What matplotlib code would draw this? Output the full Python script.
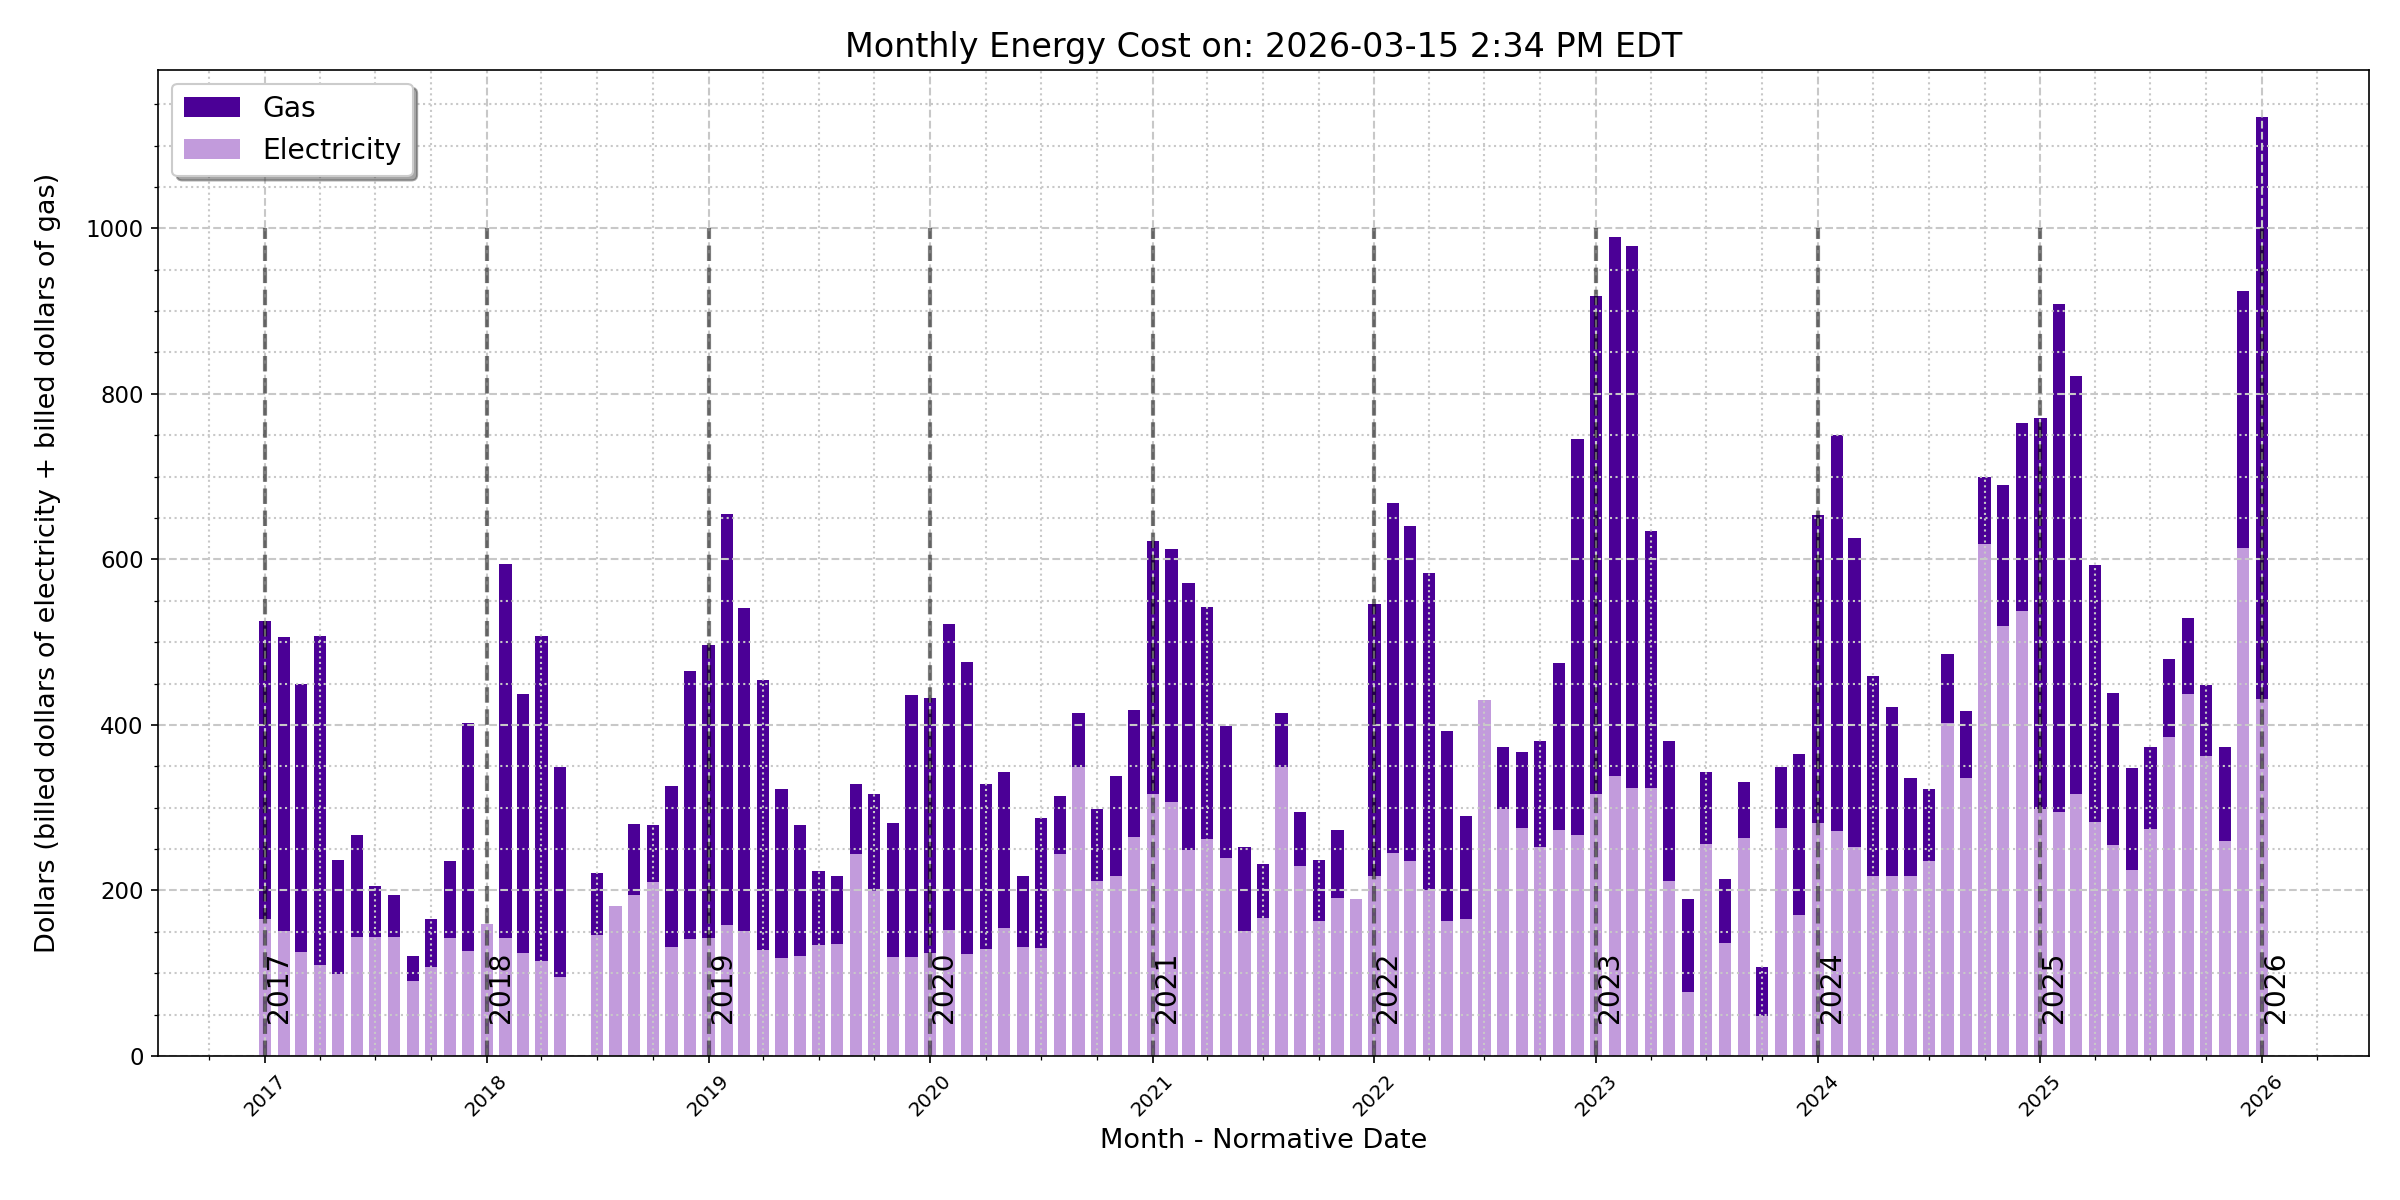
import numpy as np
import pandas as pd
import matplotlib
matplotlib.use('Agg')
import matplotlib.pyplot as plt
import matplotlib.dates as mdates
from matplotlib.ticker import MultipleLocator, AutoMinorLocator

# monthly bills, Jan 2017 .. Jan 2026 (Jun 2018 has no bill)
months = pd.date_range('2017-01-01', '2026-01-01', freq='MS')

electricity = [
    166, 151, 126, 110, 99, 144, 144, 144, 91, 108, 143, 127,   # 2017
    159, 142, 124, 115, 95, 0, 146, 181, 195, 210, 132, 141,    # 2018
    142, 158, 151, 128, 118, 121, 134, 135, 244, 199, 120, 120,  # 2019
    124, 152, 123, 129, 155, 132, 131, 244, 349, 212, 218, 264,  # 2020
    317, 307, 249, 262, 239, 151, 167, 349, 230, 163, 191, 190,  # 2021
    218, 245, 235, 200, 163, 166, 430, 299, 276, 252, 273, 267,  # 2022
    316, 338, 324, 324, 212, 77, 256, 137, 263, 48, 276, 170,    # 2023
    282, 272, 253, 217, 217, 218, 236, 402, 336, 619, 519, 538,  # 2024
    299, 295, 317, 283, 255, 225, 274, 386, 437, 363, 260, 614,  # 2025
    431,                                                         # 2026
]
gas = [
    359, 355, 324, 398, 138, 123, 61, 50, 30, 58, 93, 275,       # 2017
    0, 453, 313, 392, 254, 0, 75, 0, 85, 69, 194, 324,           # 2018
    354, 497, 390, 326, 205, 158, 90, 83, 85, 117, 162, 316,     # 2019
    309, 370, 353, 200, 188, 86, 157, 70, 65, 87, 120, 154,      # 2020
    305, 306, 322, 281, 160, 101, 65, 65, 65, 74, 82, 0,         # 2021
    328, 423, 405, 384, 230, 124, 0, 74, 91, 128, 202, 478,      # 2022
    602, 651, 655, 310, 168, 113, 87, 77, 68, 60, 73, 195,       # 2023
    372, 478, 373, 242, 205, 118, 86, 84, 81, 81, 171, 227,      # 2024
    472, 613, 504, 310, 184, 123, 99, 94, 92, 85, 113, 310,      # 2025
    704,                                                         # 2026
]
years = list(range(2017, 2027))

gas_color = '#4b0096'
elec_color = '#c29bdc'

fig, ax = plt.subplots(figsize=(16, 8), dpi=150)
fig.subplots_adjust(left=0.066, right=0.987, top=0.942, bottom=0.12)

ax.bar(months, electricity, width=20, color=elec_color, label='Electricity')
ax.bar(months, gas, width=20, bottom=electricity, color=gas_color, label='Gas')

# year markers
year_dates = [pd.Timestamp(str(y) + '-01-01') for y in years]
ax.vlines(year_dates, 0, 1000, colors='black', linestyles='--', linewidth=2, alpha=0.5)
for d, y in zip(year_dates, years):
    ax.text(d, 40, str(y), rotation=90, ha='left', va='bottom', fontsize=13.5)

ax.xaxis.set_major_locator(mdates.YearLocator())
ax.xaxis.set_major_formatter(mdates.DateFormatter('%Y'))
ax.xaxis.set_minor_locator(mdates.MonthLocator(bymonth=[1, 4, 7, 10]))
ax.yaxis.set_major_locator(MultipleLocator(200))
ax.yaxis.set_minor_locator(AutoMinorLocator(4))
plt.setp(ax.get_xticklabels(), rotation=45, ha='center', fontsize=9.5)
plt.setp(ax.get_yticklabels(), fontsize=11)

ax.grid(which='major', linestyle='--', color='#c8c8c8', linewidth=1)
ax.grid(which='minor', linestyle=':', color='#c8c8c8', linewidth=1)

handles, labels = ax.get_legend_handles_labels()
ax.legend(handles[::-1], labels[::-1], loc='upper left', shadow=True, fontsize=13.5)

ax.set_title('Monthly Energy Cost on: 2026-03-15 2:34 PM EDT', fontsize=16)
ax.set_xlabel('Month - Normative Date', fontsize=13)
ax.set_ylabel('Dollars (billed dollars of electricity + billed dollars of gas)', fontsize=13, labelpad=12)

plt.savefig('out.png')
